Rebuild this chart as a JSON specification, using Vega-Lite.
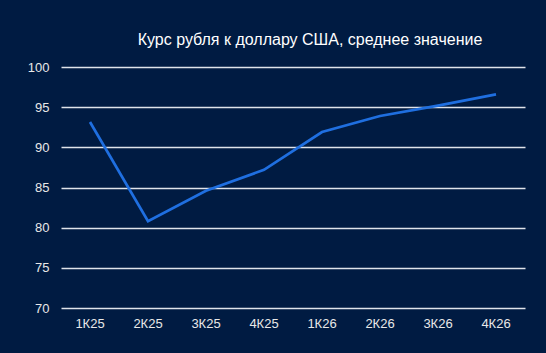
{
  "$schema": "https://vega.github.io/schema/vega-lite/v6.json",
  "width": 464,
  "height": 241,
  "autosize": {"type": "none"},
  "padding": {"left": 61, "top": 67, "right": 21, "bottom": 45},
  "background": "#001b42",
  "title": {
    "text": "Курс рубля к доллару США, среднее значение",
    "color": "#ffffff",
    "font": "Liberation Sans",
    "fontSize": 16,
    "fontWeight": "normal",
    "anchor": "middle",
    "dx": 17,
    "offset": 13
  },
  "data": {
    "values": [
      {"q": "1К25", "v": 93.15},
      {"q": "2К25", "v": 80.8},
      {"q": "3К25", "v": 84.6},
      {"q": "4К25", "v": 87.2},
      {"q": "1К26", "v": 91.9},
      {"q": "2К26", "v": 93.9},
      {"q": "3К26", "v": 95.2},
      {"q": "4К26", "v": 96.6}
    ]
  },
  "config": {
    "view": {"stroke": null},
    "axis": {
      "labelFont": "Liberation Sans",
      "labelFontSize": 13,
      "labelColor": "#e8e8e8",
      "domain": false,
      "ticks": false,
      "title": null
    }
  },
  "mark": {"type": "line", "color": "#1f6fe0", "strokeWidth": 2.7},
  "encoding": {
    "x": {
      "field": "q",
      "type": "ordinal",
      "sort": null,
      "scale": {"type": "band", "paddingInner": 0, "paddingOuter": 0},
      "axis": {"labelAngle": 0, "labelPadding": 9, "grid": false}
    },
    "y": {
      "field": "v",
      "type": "quantitative",
      "scale": {"domain": [70, 100], "nice": false, "zero": false},
      "axis": {
        "values": [70, 75, 80, 85, 90, 95, 100],
        "grid": true,
        "gridColor": "#dfe3ea",
        "gridWidth": 1.5,
        "gridOpacity": 1,
        "labelPadding": 12
      }
    }
  }
}
